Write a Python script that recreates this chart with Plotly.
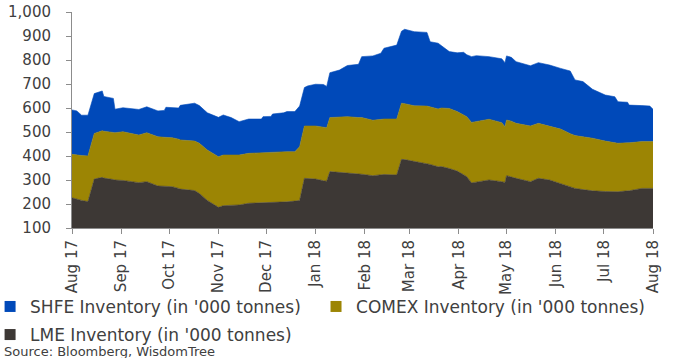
import plotly.graph_objects as go

# Observation dates (Aug 2017 - Aug 2018)
dates = [
    "2017-08-01", "2017-08-04", "2017-08-07", "2017-08-11", "2017-08-15", "2017-08-20",
    "2017-08-21", "2017-08-27", "2017-08-28", "2017-09-02", "2017-09-12", "2017-09-17",
    "2017-09-24", "2017-09-28", "2017-09-29", "2017-10-03", "2017-10-07", "2017-10-08",
    "2017-10-17", "2017-10-20", "2017-10-25", "2017-11-01", "2017-11-04", "2017-11-09",
    "2017-11-14", "2017-11-20", "2017-11-28", "2017-11-29", "2017-12-04", "2017-12-05",
    "2017-12-12", "2017-12-14", "2017-12-19", "2017-12-22", "2017-12-25", "2017-12-27",
    "2018-01-01", "2018-01-06", "2018-01-08", "2018-01-10", "2018-01-14", "2018-01-16",
    "2018-01-21", "2018-01-28", "2018-01-30", "2018-02-06", "2018-02-11", "2018-02-13",
    "2018-02-21", "2018-02-24", "2018-02-26", "2018-03-04", "2018-03-12", "2018-03-14",
    "2018-03-19", "2018-03-21", "2018-03-26", "2018-03-31", "2018-04-04", "2018-04-06",
    "2018-04-09", "2018-04-12", "2018-04-20", "2018-04-28", "2018-04-30", "2018-05-01",
    "2018-05-04", "2018-05-07", "2018-05-16", "2018-05-21", "2018-05-28", "2018-06-04",
    "2018-06-10", "2018-06-13", "2018-06-18", "2018-06-24", "2018-07-02", "2018-07-08",
    "2018-07-10", "2018-07-16", "2018-07-17", "2018-07-25", "2018-07-30", "2018-08-01",
]

# Inventories in '000 tonnes
lme = [
    226, 219, 215, 210, 304, 311, 308, 302, 300, 298, 289, 293,
    275, 274, 274, 272, 265, 262, 256, 244, 215, 186, 193, 195,
    196, 203, 204, 205, 206, 206, 208, 209, 212, 215, 307, 306,
    304, 297, 295, 335, 333, 332, 330, 325, 324, 318, 323, 323,
    321, 386, 385, 377, 369, 365, 355, 356, 348, 337, 322, 314,
    288, 292, 300, 293, 290, 318, 312, 307, 293, 307, 300, 285,
    270, 265, 260, 255, 252, 251, 251, 255, 255, 265, 265, 265,
]
comex = [
    181, 184, 187, 190, 190, 194, 195, 196, 197, 203, 198, 204,
    205, 204, 204, 204, 205, 205, 206, 209, 210, 211, 211, 209,
    208, 208, 210, 209, 211, 211, 210, 209, 206, 224, 218, 219,
    221, 223, 223, 225, 228, 230, 234, 235, 236, 231, 230, 231,
    233, 234, 233, 232, 239, 239, 241, 244, 250, 248, 248, 250,
    252, 252, 253, 246, 232, 232, 233, 229, 232, 229, 225, 227,
    223, 220, 220, 219, 210, 203, 202, 200, 200, 195, 195, 195,
]
shfe = [
    185, 185, 168, 170, 166, 166, 145, 142, 98, 100, 107, 108,
    108, 112, 125, 127, 130, 144, 158, 157, 155, 164, 167, 156,
    139, 143, 140, 150, 148, 158, 162, 167, 167, 169, 160, 167,
    174, 178, 172, 187, 193, 196, 213, 222, 254, 268, 275, 295,
    308, 300, 310, 309, 307, 272, 274, 260, 237, 245, 262, 258,
    274, 274, 261, 266, 267, 267, 266, 257, 251, 253, 254, 253,
    261, 232, 230, 204, 192, 193, 173, 169, 157, 150, 148, 135,
]

series = [
    ("LME Inventory (in '000 tonnes)", lme, "#3d3835", "legend3"),
    ("COMEX Inventory (in '000 tonnes)", comex, "#9c8504", "legend2"),
    ("SHFE Inventory (in '000 tonnes)", shfe, "#0049b9", "legend"),
]

font_family = "DejaVu Sans"
text_color = "#404040"
axis_color = "#8c8c8c"

fig = go.Figure()
for name, values, color, _ in series:
    fig.add_trace(go.Scatter(
        x=dates, y=values, name=name, mode="lines",
        stackgroup="inv", line=dict(width=0.6, color=color),
        fillcolor=color, showlegend=False,
    ))

# Legend entries shown as small square swatches, one legend box per entry
for name, values, color, legend_id in series:
    fig.add_trace(go.Scatter(
        x=[None], y=[None], name=name, mode="markers",
        marker=dict(symbol="square", size=11, color=color),
        showlegend=True, legend=legend_id,
    ))

legend_style = dict(
    orientation="h", xanchor="left", yanchor="top",
    font=dict(size=17, color=text_color),
    itemwidth=30, bgcolor="rgba(0,0,0,0)", borderwidth=0,
)

fig.update_layout(
    width=673, height=358,
    margin=dict(l=72, r=20, t=12, b=130, autoexpand=False),
    paper_bgcolor="white", plot_bgcolor="white",
    font=dict(family=font_family, color=text_color, size=15),
    showlegend=True,
    legend=dict(x=-0.141, y=-0.282, **legend_style),
    legend2=dict(x=0.420, y=-0.282, **legend_style),
    legend3=dict(x=-0.141, y=-0.412, **legend_style),
    xaxis=dict(
        type="date", range=["2017-08-01", "2018-08-01"],
        tickmode="linear", tick0="2017-08-01", dtick="M1",
        tickformat="%b %y", tickangle=-90, automargin=False,
        showgrid=False, showline=True, linecolor=axis_color, linewidth=1,
        ticks="outside", ticklen=5, tickcolor=axis_color,
        tickfont=dict(size=15, color=text_color),
    ),
    yaxis=dict(
        range=[100, 1000], tickmode="linear", tick0=100, dtick=100,
        tickformat=",d", showgrid=False, automargin=False,
        showline=True, linecolor=axis_color, linewidth=1,
        ticks="outside", ticklen=5, tickcolor=axis_color,
        ticklabelstandoff=12,
        tickfont=dict(size=15, color=text_color),
    ),
    annotations=[dict(
        text="Source: Bloomberg, WisdomTree", xref="paper", yref="paper",
        x=-0.1205, y=-0.53, xanchor="left", yanchor="top", showarrow=False,
        font=dict(size=13, color=text_color, family=font_family),
    )],
)

fig.write_html("out.html")
